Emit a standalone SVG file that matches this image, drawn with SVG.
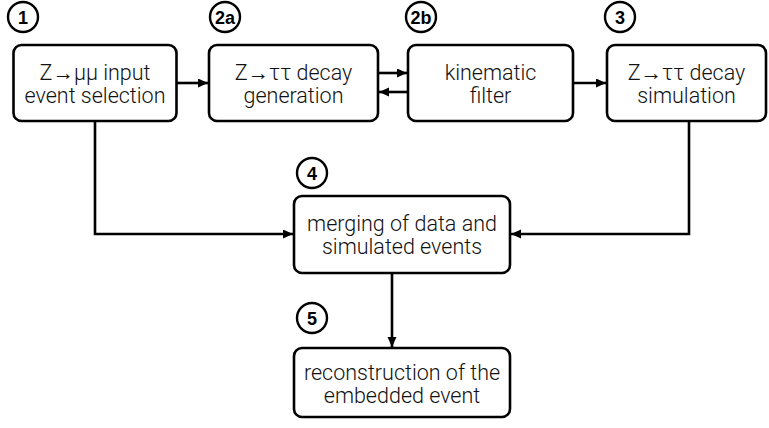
<svg xmlns="http://www.w3.org/2000/svg" width="769" height="428" viewBox="0 0 769 428">
<style>
.box{fill:#fff;stroke:#000;stroke-width:2.6}
.lbl{font-family:Roboto,"Liberation Sans",Arial,sans-serif;font-weight:300;font-size:21.5px;fill:#111;text-anchor:middle}
.num{fill:#fff;stroke:#000;stroke-width:2.4}
.numt{font-family:"Liberation Sans",Arial,sans-serif;font-size:18px;font-weight:bold;fill:#000;text-anchor:middle}
.con{fill:none;stroke:#000;stroke-width:2.6}
</style>
<defs>
<marker id="ah" markerUnits="userSpaceOnUse" markerWidth="11" markerHeight="10" refX="10" refY="4.5" orient="auto">
<path d="M0,0 L10,4.5 L0,9 z" fill="#000"/>
</marker>
</defs>
<g id="connectors">
<line class="con" x1="177" y1="83" x2="208" y2="83" marker-end="url(#ah)"/>
<line class="con" x1="378" y1="73" x2="407" y2="73" marker-end="url(#ah)"/>
<line class="con" x1="408" y1="92" x2="379" y2="92" marker-end="url(#ah)"/>
<line class="con" x1="573" y1="83" x2="606" y2="83" marker-end="url(#ah)"/>
<polyline class="con" points="95,121 95,234 293,234" marker-end="url(#ah)"/>
<polyline class="con" points="689,121 689,234 511,234" marker-end="url(#ah)"/>
<line class="con" x1="392" y1="273" x2="392" y2="347" marker-end="url(#ah)"/>
</g>
<g id="n1">
<rect class="box" x="13.5" y="45" width="163" height="76" rx="8"/>
<text class="lbl" x="95" y="80">Z→μμ input</text>
<text class="lbl" x="95" y="103">event selection</text>
<circle class="num" cx="23" cy="17" r="15"/>
<text class="numt" x="23" y="23.5">1</text>
</g>
<g id="n2a">
<rect class="box" x="209" y="45" width="169" height="76" rx="8"/>
<text class="lbl" x="293.5" y="80">Z→ττ decay</text>
<text class="lbl" x="293.5" y="103">generation</text>
<circle class="num" cx="225" cy="17" r="15"/>
<text class="numt" x="225" y="23.5">2a</text>
</g>
<g id="n2b">
<rect class="box" x="408" y="45" width="165" height="76" rx="8"/>
<text class="lbl" x="490.5" y="80">kinematic</text>
<text class="lbl" x="490.5" y="103">filter</text>
<circle class="num" cx="421" cy="17" r="15"/>
<text class="numt" x="421" y="23.5">2b</text>
</g>
<g id="n3">
<rect class="box" x="607" y="45" width="159" height="76" rx="8"/>
<text class="lbl" x="686.5" y="80">Z→ττ decay</text>
<text class="lbl" x="686.5" y="103">simulation</text>
<circle class="num" cx="620" cy="17" r="15"/>
<text class="numt" x="620" y="23.5">3</text>
</g>
<g id="n4">
<rect class="box" x="294" y="196" width="216" height="77" rx="8"/>
<text class="lbl" x="402" y="231">merging of data and</text>
<text class="lbl" x="402" y="254">simulated events</text>
<circle class="num" cx="312" cy="173" r="15"/>
<text class="numt" x="312" y="179.5">4</text>
</g>
<g id="n5">
<rect class="box" x="294" y="348" width="216" height="69" rx="8"/>
<text class="lbl" x="402" y="380">reconstruction of the</text>
<text class="lbl" x="402" y="403">embedded event</text>
<circle class="num" cx="312" cy="318" r="15"/>
<text class="numt" x="312" y="324.5">5</text>
</g>
</svg>
